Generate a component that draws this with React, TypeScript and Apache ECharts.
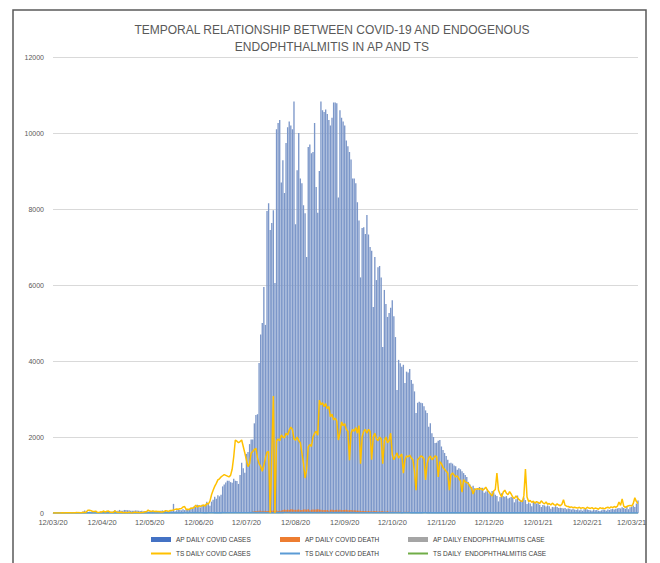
import { useEffect, useRef } from 'react';
import * as echarts from 'echarts';

// ---- categories: daily dates 12/03/20 .. 16/03/21 (DD/MM/YY) ----
const START_DATE = { y: 2020, m: 2, d: 12 };
const DAY_COUNT = 370;

// ---- AP daily COVID cases (bars), by month ----
const apCasesMar20 = [1, 0, 0, 0, 0, 0, 1, 0, 1, 1, 2, 1, 3, 2, 0, 2, 1, 2, 17, 40];
const apCasesApr20 = [67, 21, 22, 35, 34, 37, 18, 15, 16, 15, 24, 15, 20, 49, 41, 38, 32, 31, 44, 75, 35, 56, 81, 62, 61, 80, 82, 73, 71, 60];
const apCasesMay20 = [58, 62, 67, 67, 60, 54, 56, 43, 43, 50, 38, 33, 36, 57, 48, 52, 25, 52, 57, 68, 45, 62, 47, 44, 44, 68, 240, 48, 70, 98, 76];
const apCasesJun20 = [70, 98, 76, 90, 98, 105, 115, 141, 180, 161, 216, 199, 147, 216, 186, 222, 294, 246, 193, 299, 351, 425, 376, 465, 439, 477, 700, 750, 800, 850];
const apCasesJul20 = [850, 813, 793, 900, 850, 845, 765, 998, 1322, 1178, 1062, 1555, 1608, 1813, 1933, 1935, 2360, 2580, 2600, 3950, 4700, 5000, 5950, 4950, 7950, 8150, 7450, 7630, 7970, 6050, 10100];
const apCasesAug20 = [10260, 10340, 8700, 9280, 8420, 9740, 10150, 10300, 10200, 10100, 10830, 7600, 9020, 10000, 8800, 8680, 8100, 7890, 6740, 9630, 9700, 9470, 9500, 10260, 8580, 7900, 9000, 10830, 10600, 10550, 10620];
const apCasesSep20 = [10500, 10340, 10200, 10400, 10800, 10800, 10780, 8300, 10600, 10400, 10300, 10200, 9800, 9650, 9500, 9300, 8800, 8800, 8680, 8180, 7700, 6200, 7500, 7520, 7340, 7840, 7330, 7000, 6900, 5420];
const apCasesOct20 = [6740, 6130, 6470, 6500, 6200, 4370, 5870, 5500, 5160, 5260, 5400, 5600, 5180, 4630, 3240, 4030, 3940, 3850, 3900, 3420, 3720, 3700, 3790, 3500, 3400, 3200, 2630, 2900, 2930, 2900, 2890];
const apCasesNov20 = [2810, 2700, 2630, 2270, 2360, 2100, 2000, 1840, 1850, 1900, 1920, 1750, 1660, 1580, 1500, 1400, 1310, 1320, 1300, 1250, 1230, 1140, 1180, 1150, 1100, 1050, 1000, 950, 820, 750];
const apCasesDec20 = [690, 720, 650, 620, 660, 685, 620, 664, 530, 565, 630, 520, 500, 580, 540, 478, 450, 305, 420, 520, 440, 430, 445, 380, 400, 420, 400, 280, 360, 460, 300];
const apCasesJan21 = [320, 340, 410, 340, 240, 280, 250, 180, 300, 290, 250, 280, 220, 160, 210, 200, 170, 200, 180, 110, 160, 150, 180, 160, 130, 140, 130, 120, 130, 100, 120];
const apCasesFeb21 = [110, 90, 110, 90, 80, 100, 70, 90, 60, 100, 110, 90, 80, 70, 60, 90, 70, 80, 60, 50, 70, 90, 80, 60, 90, 80, 100, 110];
const apCasesMar21 = [90, 110, 120, 130, 120, 150, 130, 110, 180, 100, 150, 160, 200, 160, 250, 330];

// ---- AP daily COVID deaths (bars), by month ----
const apDeathMar20 = [0, 0, 0, 0, 0, 0, 0, 0, 0, 0, 0, 0, 0, 0, 0, 0, 0, 0, 0, 0];
const apDeathApr20 = [0, 0, 1, 0, 1, 1, 0, 0, 0, 1, 1, 0, 2, 0, 1, 1, 0, 1, 2, 1, 0, 2, 1, 0, 2, 1, 1, 1, 0, 2];
const apDeathMay20 = [1, 1, 1, 2, 0, 1, 1, 1, 1, 2, 1, 1, 0, 1, 1, 1, 0, 1, 1, 1, 0, 1, 1, 0, 1, 1, 0, 1, 1, 2, 1];
const apDeathJun20 = [2, 2, 2, 2, 2, 2, 3, 2, 2, 2, 2, 1, 2, 2, 2, 5, 6, 5, 7, 7, 8, 7, 7, 10, 10, 12, 10, 11, 8, 13];
const apDeathJul20 = [13, 10, 13, 14, 19, 12, 13, 17, 15, 15, 19, 17, 17, 25, 25, 40, 44, 52, 43, 57, 58, 51, 61, 56, 52, 54, 56, 62, 65, 54, 68];
const apDeathAug20 = [54, 58, 62, 80, 89, 77, 89, 82, 97, 93, 85, 82, 83, 89, 73, 80, 92, 93, 86, 97, 68, 84, 91, 86, 92, 97, 88, 85, 72, 82, 74];
const apDeathSep20 = [82, 62, 84, 85, 74, 80, 86, 72, 84, 74, 77, 79, 88, 73, 70, 80, 66, 70, 64, 61, 57, 55, 52, 54, 51, 49, 54, 45, 42, 49];
const apDeathOct20 = [51, 47, 42, 41, 43, 45, 34, 38, 48, 35, 34, 33, 30, 33, 34, 33, 34, 27, 26, 33, 26, 30, 20, 26, 27, 12, 19, 19, 10, 16, 16];
const apDeathNov20 = [13, 17, 13, 11, 13, 11, 8, 10, 14, 17, 17, 15, 10, 8, 3, 10, 9, 7, 12, 13, 10, 8, 5, 8, 13, 8, 9, 6, 6, 6];
const apDeathDec20 = [7, 7, 5, 3, 6, 4, 2, 4, 5, 3, 4, 3, 6, 4, 4, 4, 5, 2, 2, 3, 3, 3, 3, 3, 3, 3, 4, 4, 3, 3, 3];
const apDeathJan21 = [3, 2, 1, 2, 3, 2, 1, 2, 2, 2, 1, 1, 1, 1, 1, 1, 1, 1, 1, 0, 1, 1, 0, 0, 1, 0, 0, 1, 0, 0, 0];
const apDeathFeb21 = [1, 0, 0, 0, 1, 0, 0, 0, 0, 1, 0, 0, 0, 0, 0, 0, 0, 1, 0, 0, 0, 0, 0, 1, 0, 0, 0, 0];
const apDeathMar21 = [0, 0, 0, 1, 0, 0, 0, 1, 0, 0, 1, 0, 0, 1, 0, 0];

// ---- TS daily COVID cases (line), by month ----
const tsCasesMar20 = [1, 0, 1, 1, 2, 2, 5, 3, 5, 6, 6, 6, 3, 9, 5, 15, 10, 6, 7, 20];
const tsCasesApr20 = [15, 27, 75, 75, 62, 40, 40, 49, 18, 16, 30, 28, 52, 25, 48, 52, 22, 18, 14, 56, 28, 17, 13, 27, 7, 11, 13, 6, 22, 9];
const tsCasesMay20 = [2, 17, 21, 11, 11, 7, 15, 16, 31, 33, 79, 51, 41, 55, 40, 45, 42, 41, 26, 27, 38, 62, 52, 41, 66, 71, 80, 95, 107, 100, 110];
const tsCasesJun20 = [117, 158, 169, 94, 99, 94, 129, 127, 143, 206, 154, 192, 178, 191, 209, 184, 253, 237, 313, 480, 600, 700, 780, 870, 900, 950, 980, 1010, 990, 970];
const tsCasesJul20 = [950, 990, 1150, 1480, 1920, 1890, 1850, 1880, 1920, 1750, 1580, 1400, 1220, 1300, 1580, 1620, 1670, 1700, 1450, 1300, 1230, 1100, 1250, 1450, 1600, 1620, 0, 1500, 3080, 0, 1900];
const tsCasesAug20 = [1950, 1900, 2050, 2000, 1980, 2100, 2050, 2180, 2260, 2200, 1950, 1920, 2000, 1900, 1850, 1580, 1300, 920, 1150, 1740, 1800, 1750, 2000, 2100, 2150, 2050, 2970, 2850, 2900, 2800, 2880];
const tsCasesSep20 = [2750, 2800, 2530, 2600, 2450, 2500, 2420, 1920, 2100, 2400, 2300, 2350, 2200, 2150, 1390, 2100, 2200, 2150, 2250, 2100, 2300, 1300, 2000, 2150, 2200, 2100, 2200, 2150, 1400, 2000];
const tsCasesOct20 = [2100, 1950, 1900, 2000, 1950, 1300, 1900, 2000, 1850, 1900, 2100, 1540, 1400, 1500, 1580, 1450, 1500, 1550, 1050, 1400, 1500, 1480, 1520, 1450, 1400, 1100, 600, 1400, 1450, 1500, 1480];
const tsCasesNov20 = [1420, 870, 1300, 1450, 1500, 1400, 1450, 1500, 1480, 950, 1350, 1300, 1200, 1150, 1100, 1050, 600, 1000, 1050, 1000, 950, 980, 900, 850, 550, 880, 820, 800, 780, 700];
const tsCasesDec20 = [650, 500, 620, 630, 640, 620, 650, 600, 630, 680, 600, 550, 500, 450, 580, 620, 1050, 600, 500, 420, 550, 600, 520, 480, 560, 500, 420, 380, 450, 400, 350];
const tsCasesJan21 = [320, 300, 450, 1160, 420, 300, 330, 280, 310, 260, 300, 280, 250, 320, 270, 240, 290, 230, 250, 210, 260, 220, 200, 240, 210, 190, 230, 350, 200, 180, 170];
const tsCasesFeb21 = [150, 160, 140, 150, 140, 130, 150, 120, 140, 130, 110, 150, 130, 120, 140, 110, 130, 120, 100, 140, 120, 130, 110, 140, 150, 130, 160, 140];
const tsCasesMar21 = [170, 150, 180, 290, 200, 370, 180, 150, 170, 190, 200, 180, 250, 400, 300, 250];

// ---- TS daily COVID deaths (line), by month ----
const tsDeathMar20 = [0, 0, 0, 0, 0, 0, 0, 0, 0, 0, 0, 0, 0, 0, 0, 0, 1, 1, 0, 3];
const tsDeathApr20 = [3, 0, 3, 3, 0, 1, 1, 1, 2, 2, 1, 2, 2, 0, 1, 1, 1, 0, 3, 1, 2, 0, 0, 0, 1, 0, 0, 0, 0, 0];
const tsDeathMay20 = [0, 1, 0, 1, 2, 1, 0, 1, 1, 1, 0, 3, 0, 0, 0, 0, 0, 1, 2, 1, 2, 3, 4, 3, 3, 4, 2, 4, 3, 4, 4];
const tsDeathJun20 = [3, 3, 6, 6, 3, 10, 5, 5, 9, 8, 9, 8, 8, 8, 3, 4, 4, 6, 5, 5, 7, 3, 3, 4, 5, 4, 9, 7, 7, 7];
const tsDeathJul20 = [7, 8, 8, 8, 10, 6, 7, 8, 7, 8, 7, 8, 7, 7, 10, 10, 10, 7, 8, 12, 9, 10, 9, 8, 8, 7, 7, 7, 7, 10, 10];
const tsDeathAug20 = [11, 11, 11, 11, 13, 14, 13, 13, 10, 10, 11, 14, 10, 10, 10, 10, 9, 11, 10, 9, 10, 9, 8, 9, 8, 10, 10, 10, 9, 8, 9];
const tsDeathSep20 = [10, 10, 10, 11, 8, 10, 10, 10, 10, 10, 11, 10, 9, 10, 8, 9, 10, 10, 8, 8, 8, 7, 8, 7, 7, 8, 5, 6, 7, 8];
const tsDeathOct20 = [8, 8, 8, 7, 7, 6, 5, 5, 8, 8, 7, 6, 8, 8, 5, 5, 5, 4, 6, 5, 6, 7, 5, 4, 4, 3, 4, 5, 4, 4, 4];
const tsDeathNov20 = [5, 6, 4, 4, 5, 4, 5, 3, 4, 4, 4, 4, 4, 4, 4, 4, 4, 4, 3, 3, 3, 3, 3, 3, 3, 3, 3, 4, 3, 3];
const tsDeathDec20 = [3, 3, 3, 3, 3, 3, 3, 3, 3, 3, 3, 3, 3, 3, 3, 3, 3, 3, 3, 3, 3, 3, 2, 2, 3, 3, 3, 3, 3, 3, 2];
const tsDeathJan21 = [2, 2, 2, 2, 2, 2, 2, 2, 2, 2, 2, 2, 2, 2, 2, 2, 2, 2, 2, 2, 2, 2, 2, 2, 2, 1, 1, 1, 1, 1, 1];
const tsDeathFeb21 = [1, 1, 1, 1, 1, 1, 1, 1, 1, 1, 1, 1, 1, 1, 1, 1, 1, 1, 1, 1, 1, 1, 1, 1, 1, 1, 1, 1];
const tsDeathMar21 = [1, 1, 1, 1, 1, 1, 1, 1, 1, 1, 1, 1, 1, 1, 1, 1];

// ---- endophthalmitis cases (sparse: date, count) ----
const apEndoDates = ['28/07/20', '06/08/20', '19/08/20', '02/09/20', '15/09/20', '01/10/20', '20/10/20'];
const apEndoCounts = [1, 1, 2, 1, 1, 1, 1];
const tsEndoDates = ['03/08/20', '24/08/20', '10/09/20', '29/09/20', '14/10/20'];
const tsEndoCounts = [1, 1, 1, 2, 1];

// ---- axis ----
const Y_MIN = 0;
const Y_MAX = 12000;
const Y_STEP = 2000;

const TITLE = 'TEMPORAL RELATIONSHIP BETWEEN COVID-19 AND ENDOGENOUS\nENDOPHTHALMITIS IN AP AND TS';

const NAMES = {
  apCases: 'AP DAILY COVID CASES',
  apDeath: 'AP DAILY COVID DEATH',
  apEndo: 'AP DAILY ENDOPHTHALMITIS CASE',
  tsCases: 'TS DAILY COVID CASES',
  tsDeath: 'TS DAILY COVID DEATH',
  tsEndo: 'TS DAILY  ENDOPHTHALMITIS CASE',
};

function buildDates(): string[] {
  const out: string[] = [];
  const base = Date.UTC(START_DATE.y, START_DATE.m, START_DATE.d);
  for (let i = 0; i < DAY_COUNT; i++) {
    const dt = new Date(base + i * 86400000);
    const dd = String(dt.getUTCDate()).padStart(2, '0');
    const mm = String(dt.getUTCMonth() + 1).padStart(2, '0');
    const yy = String(dt.getUTCFullYear() % 100).padStart(2, '0');
    out.push(`${dd}/${mm}/${yy}`);
  }
  return out;
}

const FONT = '"Liberation Sans", Arial, sans-serif';

export default function App() {
  const ref = useRef<HTMLDivElement>(null);

  useEffect(() => {
    if (!ref.current) return;
    const chart = echarts.init(ref.current, undefined, { renderer: 'svg' });

    const dates = buildDates();
    const apCases = [...apCasesMar20, ...apCasesApr20, ...apCasesMay20, ...apCasesJun20, ...apCasesJul20, ...apCasesAug20, ...apCasesSep20, ...apCasesOct20, ...apCasesNov20, ...apCasesDec20, ...apCasesJan21, ...apCasesFeb21, ...apCasesMar21];
    const apDeath = [...apDeathMar20, ...apDeathApr20, ...apDeathMay20, ...apDeathJun20, ...apDeathJul20, ...apDeathAug20, ...apDeathSep20, ...apDeathOct20, ...apDeathNov20, ...apDeathDec20, ...apDeathJan21, ...apDeathFeb21, ...apDeathMar21];
    const tsCases = [...tsCasesMar20, ...tsCasesApr20, ...tsCasesMay20, ...tsCasesJun20, ...tsCasesJul20, ...tsCasesAug20, ...tsCasesSep20, ...tsCasesOct20, ...tsCasesNov20, ...tsCasesDec20, ...tsCasesJan21, ...tsCasesFeb21, ...tsCasesMar21];
    const tsDeath = [...tsDeathMar20, ...tsDeathApr20, ...tsDeathMay20, ...tsDeathJun20, ...tsDeathJul20, ...tsDeathAug20, ...tsDeathSep20, ...tsDeathOct20, ...tsDeathNov20, ...tsDeathDec20, ...tsDeathJan21, ...tsDeathFeb21, ...tsDeathMar21];
    const apEndo = dates.map((d) => {
      const k = apEndoDates.indexOf(d);
      return k >= 0 ? apEndoCounts[k] : 0;
    });
    const tsEndo = dates.map((d) => {
      const k = tsEndoDates.indexOf(d);
      return k >= 0 ? tsEndoCounts[k] : 0;
    });

    const legendText = { fontSize: 6.5, color: '#404040', fontFamily: FONT };
    const mkLegend = (name: string, color: string, left: number, top: number, h: number) => ({
      show: true,
      left,
      top,
      itemWidth: 20,
      itemHeight: h,
      selectedMode: false,
      padding: 0,
      textStyle: legendText,
      data: [{ name, icon: 'rect', itemStyle: { color, opacity: 1 }, lineStyle: { opacity: 0 } }],
    });

    chart.setOption({
      animation: false,
      backgroundColor: '#ffffff',
      title: {
        text: TITLE,
        left: 327,
        top: 16,
        textAlign: 'center',
        textStyle: { fontSize: 12, fontWeight: 'normal', color: '#595959', fontFamily: FONT, lineHeight: 17 },
      },
      graphic: [
        {
          type: 'rect',
          shape: { x: 13, y: 10, width: 633, height: 600 },
          style: { fill: 'none', stroke: '#595959', lineWidth: 1.5 },
          silent: true,
        },
      ],
      legend: [
        mkLegend(NAMES.apCases, '#4472C4', 151, 536, 5),
        mkLegend(NAMES.apDeath, '#ED7D31', 280, 536, 5),
        mkLegend(NAMES.apEndo, '#A5A5A5', 408, 536, 5),
        mkLegend(NAMES.tsCases, '#FFC000', 151, 550, 2),
        mkLegend(NAMES.tsDeath, '#5B9BD5', 280, 550, 2),
        mkLegend(NAMES.tsEndo, '#70AD47', 408, 550, 2),
      ],
      grid: { left: 53, right: 22, top: 57, bottom: 50, containLabel: false },
      xAxis: {
        type: 'category',
        data: dates,
        boundaryGap: false,
        axisLine: { lineStyle: { color: '#d9d9d9', width: 1 } },
        axisTick: { show: false },
        axisLabel: {
          interval: (_i: number, v: string) => v.startsWith('12/'),
          fontSize: 7.5,
          color: '#595959',
          fontFamily: FONT,
          margin: 5,
          hideOverlap: false,
        },
        splitLine: { show: false },
      },
      yAxis: {
        type: 'value',
        min: Y_MIN,
        max: Y_MAX,
        interval: Y_STEP,
        axisLine: { show: false },
        axisTick: { show: false },
        axisLabel: {
          fontSize: 7,
          color: '#595959',
          fontFamily: FONT,
          margin: 9,
          formatter: (v: number) => String(v),
        },
        splitLine: { lineStyle: { color: '#d9d9d9', width: 1 } },
      },
      series: [
        {
          name: NAMES.apCases,
          type: 'bar',
          data: apCases,
          barWidth: '85%',
          barGap: '-100%',
          itemStyle: { color: '#7c97c9' },
        },
        {
          name: NAMES.apDeath,
          type: 'bar',
          data: apDeath,
          barWidth: '85%',
          barGap: '-100%',
          itemStyle: { color: '#ED7D31' },
        },
        {
          name: NAMES.apEndo,
          type: 'bar',
          data: apEndo,
          barWidth: '85%',
          barGap: '-100%',
          itemStyle: { color: '#A5A5A5' },
        },
        {
          name: NAMES.tsEndo,
          type: 'line',
          data: tsEndo,
          symbol: 'none',
          z: 1,
          lineStyle: { color: '#70AD47', width: 0.8 },
          itemStyle: { color: '#70AD47' },
        },
        {
          name: NAMES.tsDeath,
          type: 'line',
          data: tsDeath,
          symbol: 'none',
          z: 3,
          lineStyle: { color: '#5B9BD5', width: 1.6 },
          itemStyle: { color: '#5B9BD5' },
        },
        {
          name: NAMES.tsCases,
          type: 'line',
          data: tsCases,
          symbol: 'none',
          z: 4,
          lineStyle: { color: '#FFC000', width: 1.5 },
          itemStyle: { color: '#FFC000' },
        },
      ],
    });

    return () => chart.dispose();
  }, []);

  return (
    <div
      ref={ref}
      style={{ position: 'absolute', left: 0, top: 0, width: 660, height: 563, background: '#ffffff' }}
    />
  );
}
